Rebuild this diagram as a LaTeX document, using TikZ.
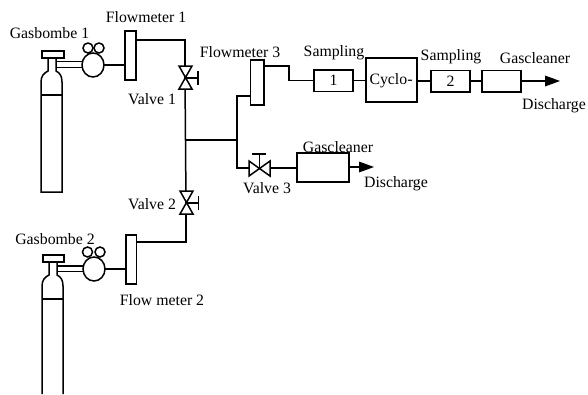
\documentclass[tikz,border=0pt]{standalone}
\usepackage{fontspec}
\setmainfont{Liberation Serif}
\usetikzlibrary{shapes.geometric}
\tikzset{
  pipe/.style={draw=black,line width=1.5pt,line join=miter},
  box/.style={draw=black,line width=1.5pt,fill=white,inner sep=0pt,outer sep=0pt,rectangle},
  lbl/.style={inner sep=0pt,outer sep=0pt,font=\fontsize{15.8}{18}\selectfont,text=black},
  reg/.style={draw=black,line width=1.5pt,fill=white,ellipse,inner sep=0pt,outer sep=0pt,minimum width=22pt,minimum height=24pt},
  gauge/.style={draw=black,line width=1.5pt,fill=white,circle,inner sep=0pt,outer sep=0pt,minimum size=10pt},
  tiphead/.style={fill=black,draw=none}
}
\begin{document}
\begin{tikzpicture}[x=1pt,y=-1pt]
\useasboundingbox (0,0) rectangle (588,394);
% bottles
\draw[pipe] (41,192) -- (41,82) .. controls (41,76) and (44,73) .. (48,71) -- (48,58) -- (56,58) -- (56,71) .. controls (60,73) and (62,76) .. (62,82) -- (62,192) -- cycle;
\draw[pipe] (41,95) -- (62,95);
\node[box,minimum width=22pt,minimum height=7pt] (capA) at (53,54.5) {};
\draw[pipe] (42,394) -- (42,286) .. controls (42,280) and (45,277) .. (49,275) -- (49,262) -- (57,262) -- (57,275) .. controls (61,277) and (63,280) .. (63,286) -- (63,394);
\draw[pipe] (42,299) -- (63,299);
\node[box,minimum width=21pt,minimum height=7pt] (capB) at (53.5,258.5) {};
% regulators
\node[gauge] (g1) at (88,48) {};
\node[gauge] (g2) at (99,48) {};
\node[reg] (regA) at (93,65) {};
\node[gauge] (g3) at (87.5,252) {};
\node[gauge] (g4) at (100,252) {};
\node[reg] (regB) at (94,269) {};
\coordinate (pA1) at (57,61.5); \coordinate (pA2) at (57,67.5);
\coordinate (pB1) at (58,266); \coordinate (pB2) at (58,271.5);
\draw[pipe,line width=1.2pt] (pA1) -- (pA1 -| regA.west) (pA2) -- (pA2 -| regA.west);
\draw[pipe,line width=1.2pt] (pB1) -- (pB1 -| regB.west) (pB2) -- (pB2 -| regB.west);
% boxes
\node[box,minimum width=11pt,minimum height=49pt] (fm1) at (130.5,55.5) {};
\node[box,minimum width=10.5pt,minimum height=49pt] (fm2) at (131,259.5) {};
\node[box,minimum width=13.5pt,minimum height=45pt] (fm3) at (257,82.5) {};
\node[box,minimum width=39pt,minimum height=21.5pt] (s1) at (333.5,80.5) {};
\node[box,minimum width=51pt,minimum height=44pt] (cy) at (391.5,80) {};
\node[box,minimum width=39pt,minimum height=21.5pt] (s2) at (450.5,81) {};
\node[box,minimum width=39pt,minimum height=21.5pt] (gc1) at (501.5,81) {};
\node[box,minimum width=52pt,minimum height=29pt] (gc2) at (323,167.5) {};
% valve centres
\coordinate (v1) at (185,78);
\coordinate (v2) at (186,203);
\coordinate (v3) at (259.5,168);
\coordinate (j) at (185.5,140);
\coordinate (j2) at (237,140);
\coordinate (fm1o) at (136,40);
\coordinate (fm2o) at (136.5,242);
\coordinate (fm3i) at (250,96);
\coordinate (fm3o) at (264,66);
% pipes
\draw[pipe] (regA.east) -- (regA.east -| fm1.west);
\draw[pipe] (regB.east) -- (regB.east -| fm2.west);
\draw[pipe] (fm1o) -| (v1);
\draw[pipe] (fm2o) -| (v2);
\draw[pipe] (v1) -- (v2);
\draw[pipe] (j) -- (j2);
\draw[pipe] (fm3i) -| (j2);
\draw[pipe] (j2) |- (v3);
\draw[pipe] (fm3o) -- (289,66) -- (289,80.5) -- (s1.west);
\draw[pipe] (s1.east) -- (cy.west |- s1.east);
\draw[pipe] (s2.west) -- (cy.east |- s2.west);
\draw[pipe] (s2.east) -- (gc1.west);
\draw[pipe] (v3) -- (gc2.west |- v3);
% valves
\draw[pipe,fill=white] (179,66) -- (192,66) -- (179,89) -- (192,89) -- cycle;
\draw[pipe] (v1) -- (198,78) (198,71) -- (198,85);
\draw[pipe,fill=white] (180,191) -- (193,191) -- (180,214) -- (193,214) -- cycle;
\draw[pipe] (v2) -- (198.5,203) (198.5,196) -- (198.5,210);
\draw[pipe,fill=white] (249,161) -- (249,176) -- (270,161) -- (270,176) -- cycle;
\draw[pipe] (v3) -- (259.5,154) (252,154) -- (266,154);
% outlet arrows
\coordinate (a1) at (545,81);
\coordinate (a2) at (359,167);
\draw[pipe] (gc1.east) -- (a1);
\fill[tiphead] (a1) ++(0,-5.5) -- ++(15,5.5) -- ++(-15,5.5) -- cycle;
\draw[pipe] (gc2.east |- a2) -- (a2);
\fill[tiphead] (a2) ++(0,-5.5) -- ++(15,5.5) -- ++(-15,5.5) -- cycle;
% labels
\node[lbl] (t1) at (49.5,33) {Gasbombe 1};
\node[lbl] (t2) at (146,17) {Flowmeter 1};
\node[lbl] (t3) at (152,99) {Valve 1};
\node[lbl] (t4) at (240,52) {Flowmeter 3};
\node[lbl] (t5) at (334,53) {Sampling};
\node[lbl] (t6) at (451,57) {Sampling};
\node[lbl] (t7) at (535,58) {Gascleaner};
\node[lbl] (t8) at (554,106) {Discharge};
\node[lbl] (t9) at (338,147) {Gascleaner};
\node[lbl] (t10) at (396,184) {Discharge};
\node[lbl] (t11) at (267,188) {Valve 3};
\node[lbl] (t12) at (152,204) {Valve 2};
\node[lbl] (t13) at (55,239) {Gasbombe 2};
\node[lbl] (t14) at (162,300) {Flow meter 2};
\node[lbl] at (cy.center) [xshift=-0.5pt,yshift=-0.5pt] {Cyclo-};
\node[lbl] at (s1.center) {1};
\node[lbl] at (s2.center) {2};
\end{tikzpicture}
\end{document}
